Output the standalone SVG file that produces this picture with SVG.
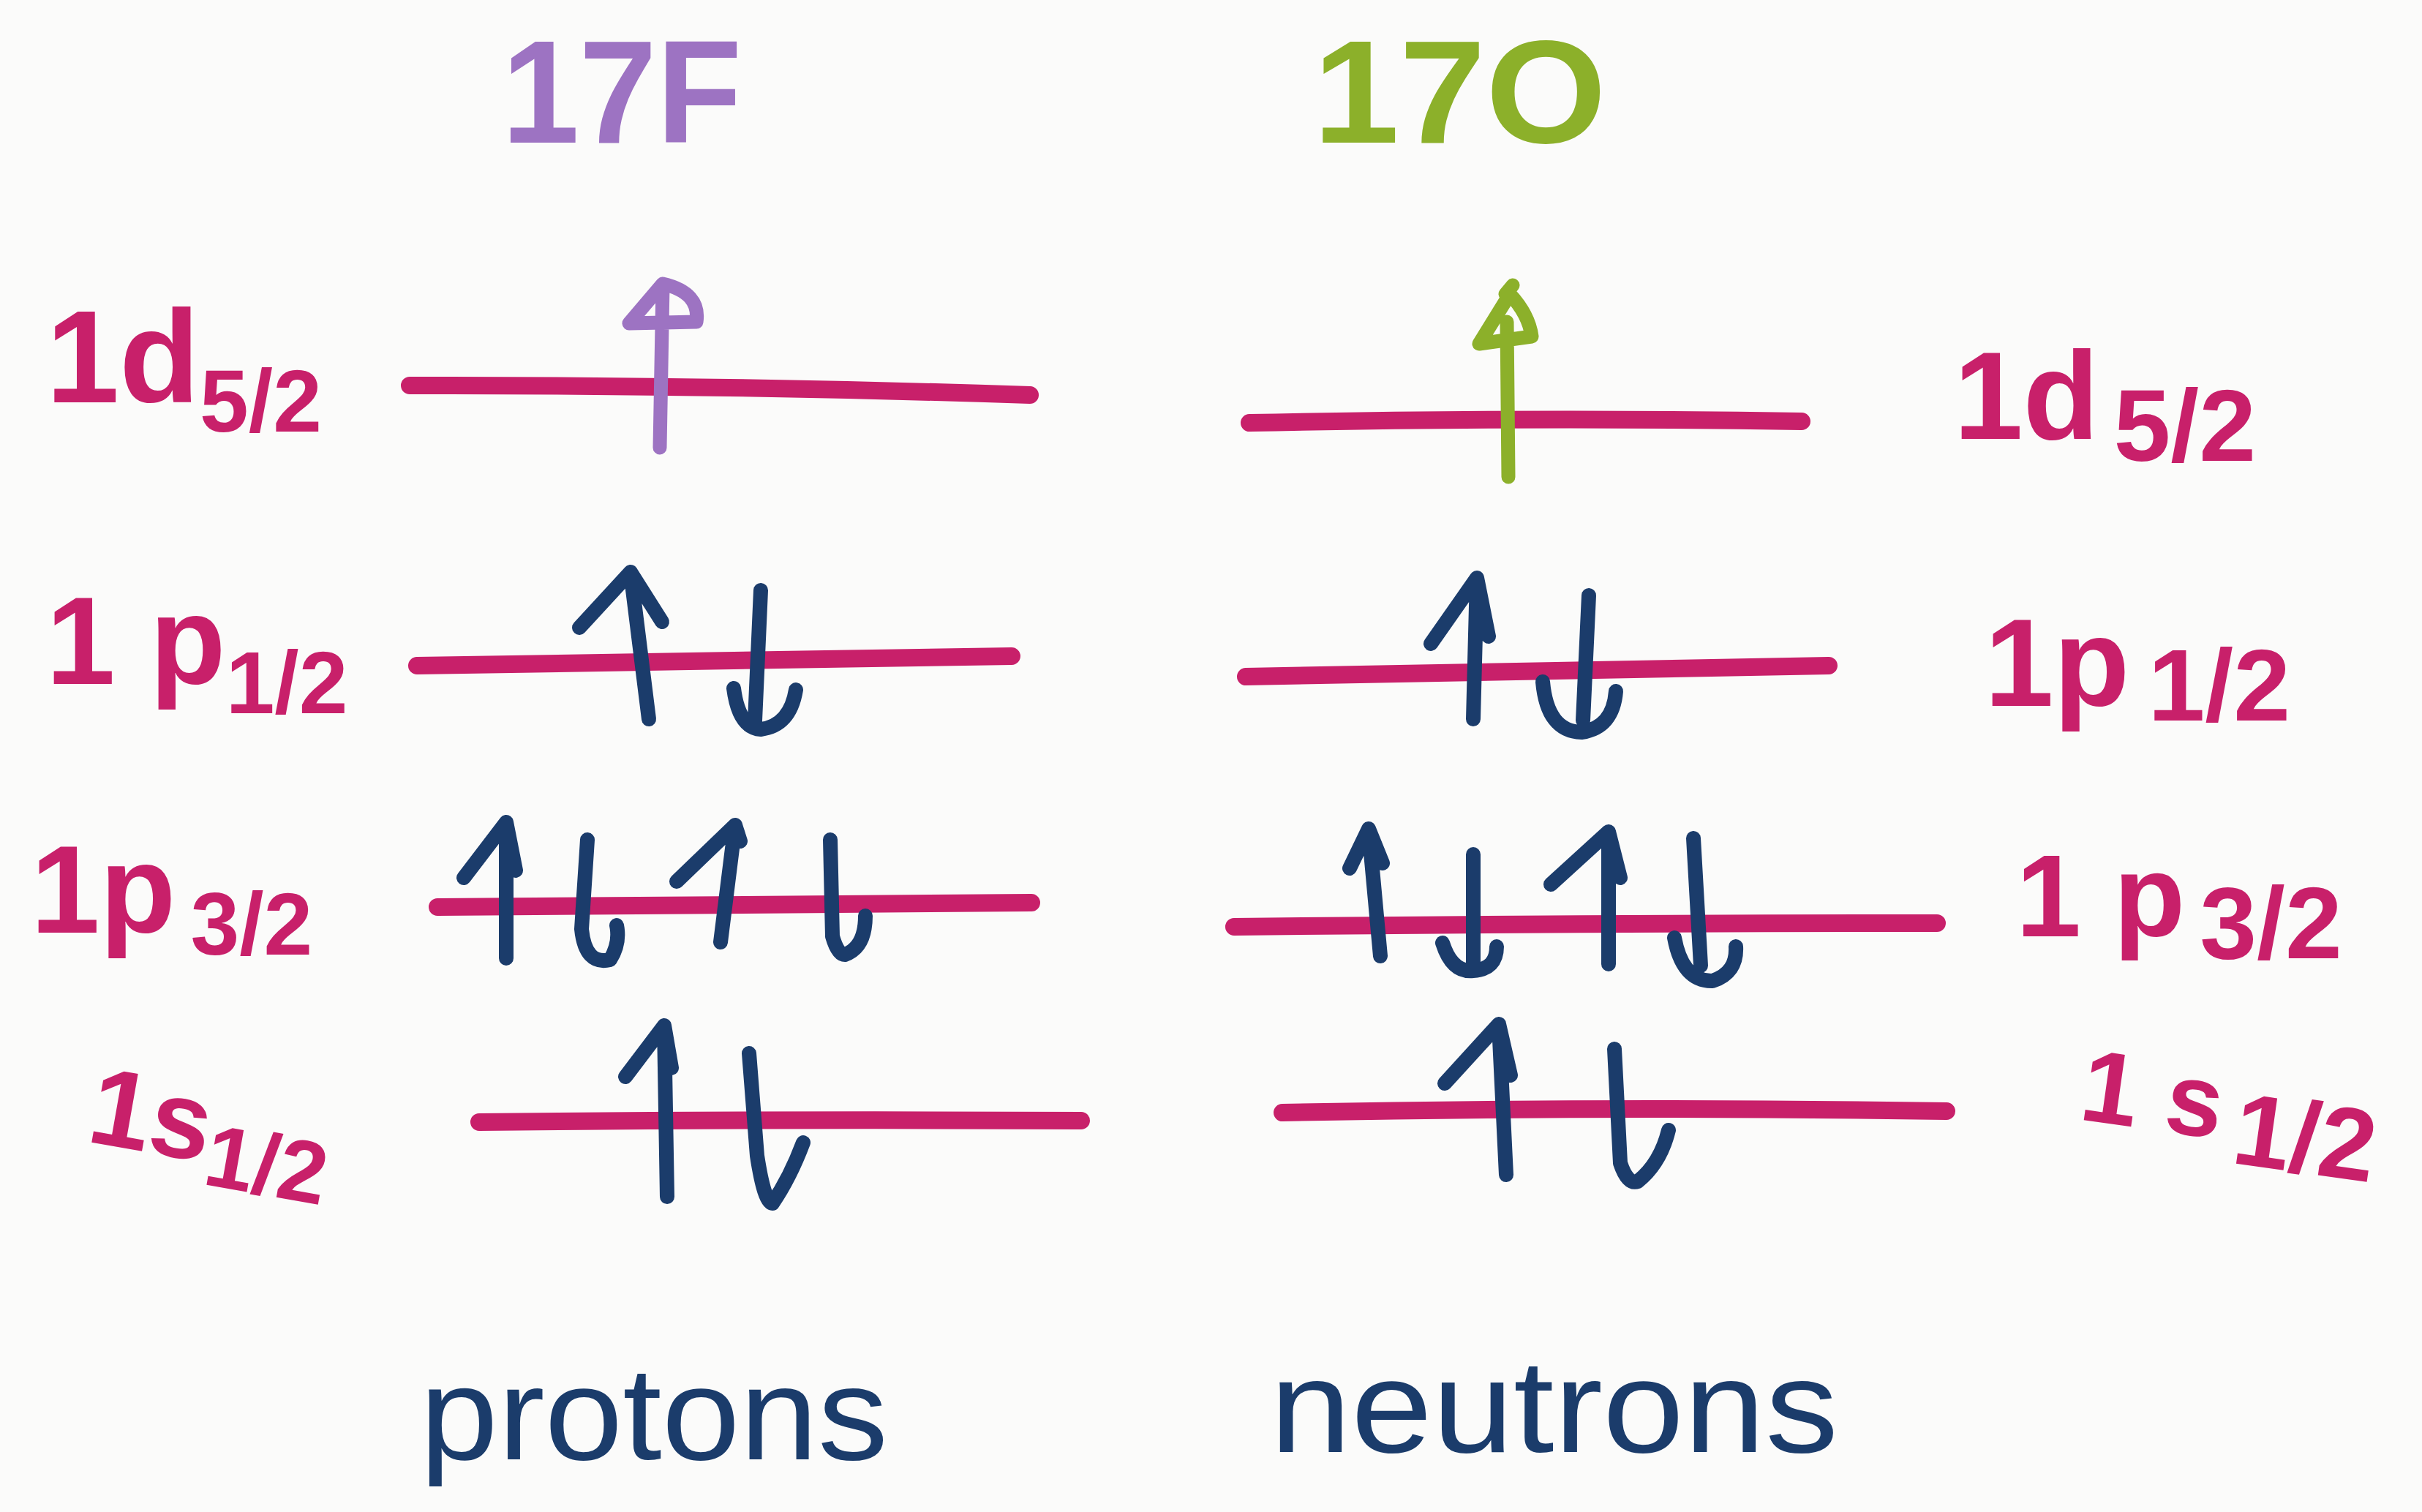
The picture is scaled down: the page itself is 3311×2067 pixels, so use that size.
<svg xmlns="http://www.w3.org/2000/svg" width="3311" height="2067" viewBox="0 0 3311 2067">
<style>
.bg{fill:#fbfbfa}
.lvl{fill:none;stroke:#c8206a;stroke-width:24;stroke-linecap:round;stroke-linejoin:round}
.sp{fill:none;stroke:#1b3c6b;stroke-width:20;stroke-linecap:round;stroke-linejoin:round}
.spP{fill:none;stroke:#9d73c2;stroke-width:19;stroke-linecap:round;stroke-linejoin:round}
.spG{fill:none;stroke:#8cb02a;stroke-width:19;stroke-linecap:round;stroke-linejoin:round}
.lab{fill:#c8206a;font-family:"Liberation Sans","DejaVu Sans",sans-serif;font-weight:bold}
.fr{font-size:120px}
.ttl{font-family:"Liberation Sans","DejaVu Sans",sans-serif;font-weight:bold;font-size:200px}
.nm{fill:#1b3c6b;font-family:"Liberation Sans","DejaVu Sans",sans-serif;font-size:180px}
</style>
<rect class="bg" x="0" y="0" width="3311" height="2067"/>

<g id="title-17F"><text class="ttl" x="686" y="195" fill="#9d73c2" textLength="328" lengthAdjust="spacingAndGlyphs">17F</text></g>
<g id="title-17O"><text class="ttl" x="1795" y="195" fill="#8cb02a" textLength="401" lengthAdjust="spacingAndGlyphs">17O</text></g>

<g id="labels-left">
<g id="lab-p-1d52"><text class="lab" x="63" y="550" font-size="180">1d<tspan class="fr" dy="40">5/2</tspan></text></g>
<g id="lab-p-1p12"><text class="lab" x="63" y="935" font-size="170">1 p<tspan class="fr" dy="40">1/2</tspan></text></g>
<g id="lab-p-1p32"><text class="lab" x="42" y="1275" font-size="170">1p<tspan class="fr" dx="20" dy="30">3/2</tspan></text></g>
<g id="lab-p-1s12"><text class="lab" x="116" y="1560" font-size="150" transform="rotate(10 116 1560)">1s<tspan class="fr" dy="30">1/2</tspan></text></g>
</g>

<g id="labels-right">
<g id="lab-n-1d52"><text class="lab" x="2671" y="600" font-size="170">1d<tspan font-size="140" dx="20" dy="30">5/2</tspan></text></g>
<g id="lab-n-1p12"><text class="lab" x="2713" y="965" font-size="170">1p<tspan font-size="140" dx="25" dy="20">1/2</tspan></text></g>
<g id="lab-n-1p32"><text class="lab" x="2756" y="1280" font-size="160">1 p<tspan font-size="140" dx="20" dy="30">3/2</tspan></text></g>
<g id="lab-n-1s12"><text class="lab" x="2840" y="1530" font-size="140" transform="rotate(8 2840 1530)">1 s<tspan font-size="140" dx="20" dy="30">1/2</tspan></text></g>
</g>

<g id="level-p-1d52"><path class="lvl" d="M560 527 Q 980 526 1408 540"/>
<path class="spP" d="M902 612 L 906 390 M906 388 L 860 442 L 952 440 Q 958 400 906 388"/></g>
<g id="level-n-1d52"><path class="lvl" d="M1708 578 Q 2100 570 2463 576"/>
<path class="spG" d="M2062 652 L 2060 440 M2064 402 L 2022 470 L 2094 460 Q 2090 430 2064 402 M2058 402 L 2068 390"/></g>

<g id="level-p-1p12"><path class="lvl" d="M570 910 Q 980 902 1383 897"/>
<path class="sp" d="M887 983 L 862 782 M792 858 L 862 782 L 905 850"/>
<path class="sp" d="M1040 807 L 1032 985 M1003 941 Q 1010 995 1040 997 Q 1080 992 1088 943"/></g>
<g id="level-n-1p12"><path class="lvl" d="M1703 925 Q 2100 918 2500 910"/>
<path class="sp" d="M2014 983 L 2019 790 M1956 880 L 2019 790 L 2035 870"/>
<path class="sp" d="M2172 814 L 2164 985 M2109 932 Q 2115 1000 2162 1001 Q 2205 995 2209 945"/></g>

<g id="level-p-1p32"><path class="lvl" d="M598 1240 Q 1000 1236 1410 1234"/>
<path class="sp" d="M692 1310 L 692 1124 M634 1200 L 692 1124 L 705 1190"/>
<path class="sp" d="M803 1148 L 795 1270 Q 800 1320 834 1312 Q 848 1290 843 1265"/>
<path class="sp" d="M985 1288 L 1005 1128 M925 1205 L 1005 1128 L 1012 1150"/>
<path class="sp" d="M1135 1148 L 1138 1280 Q 1145 1305 1155 1305 Q 1183 1295 1183 1252"/></g>
<g id="level-n-1p32"><path class="lvl" d="M1687 1267 Q 2150 1262 2648 1262"/>
<path class="sp" d="M1887 1307 L 1871 1133 M1845 1187 L 1871 1133 L 1890 1180"/>
<path class="sp" d="M2014 1168 L 2014 1320 M1972 1289 Q 1985 1330 2014 1327 Q 2046 1325 2046 1294"/>
<path class="sp" d="M2199 1318 L 2199 1137 M2120 1209 L 2199 1137 L 2215 1200"/>
<path class="sp" d="M2315 1146 L 2325 1320 M2289 1282 Q 2300 1342 2341 1341 Q 2375 1330 2373 1294"/></g>

<g id="level-p-1s12"><path class="lvl" d="M655 1534 Q 1050 1530 1478 1532"/>
<path class="sp" d="M912 1636 L 908 1402 M855 1472 L 908 1402 L 918 1460"/>
<path class="sp" d="M1024 1440 L 1035 1580 Q 1045 1645 1056 1645 Q 1080 1610 1098 1562"/></g>
<g id="level-n-1s12"><path class="lvl" d="M1753 1521 Q 2200 1512 2661 1519"/>
<path class="sp" d="M2059 1606 L 2049 1400 M1975 1481 L 2049 1400 L 2065 1470"/>
<path class="sp" d="M2207 1434 L 2215 1590 Q 2225 1620 2239 1615 Q 2270 1590 2281 1545"/></g>

<g id="caption-protons"><text class="nm" x="574" y="1995" textLength="640" lengthAdjust="spacingAndGlyphs">protons</text></g>
<g id="caption-neutrons"><text class="nm" x="1736" y="1985" textLength="777" lengthAdjust="spacingAndGlyphs">neutrons</text></g>
</svg>
